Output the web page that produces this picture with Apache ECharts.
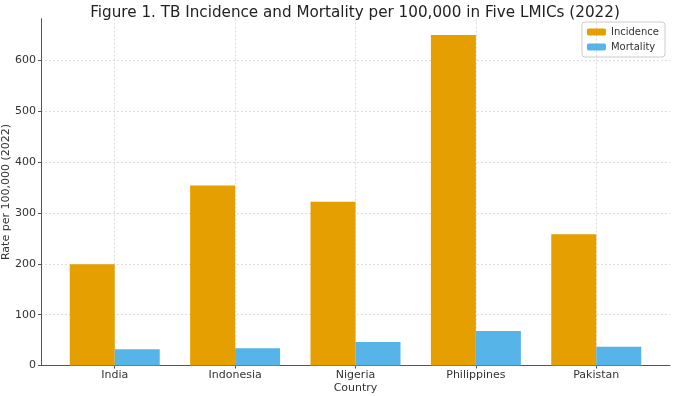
<!DOCTYPE html>
<html>
<head>
<meta charset="utf-8">
<script src="https://cdn.jsdelivr.net/npm/echarts@6/dist/echarts.min.js"></script>
<style>
  html, body { margin: 0; padding: 0; background: #fff; }
  #chart { width: 674px; height: 396px; }
</style>
</head>
<body>
<div id="chart"></div>
<script>
// TB rates per 100,000 (2022)
var countries = ['India', 'Indonesia', 'Nigeria', 'Philippines', 'Pakistan'];
var incidence = [199, 354, 322, 650, 258];
var mortality = [32, 34, 46, 68, 37];
var yTicks = [0, 100, 200, 300, 400, 500, 600];

var font = 'DejaVu Sans';
var idx = countries.map(function (c, i) { return i; });

var chart = echarts.init(document.getElementById('chart'));
var option = {
    animation: false,
    textStyle: { fontFamily: font },
    title: {
        text: 'Figure 1. TB Incidence and Mortality per 100,000 in Five LMICs (2022)',
        left: 350,
        textAlign: 'center',
        top: 1,
        textStyle: { fontFamily: font, fontSize: 15.2, fontWeight: 'normal', color: '#222' }
    },
    legend: {
        data: ['Incidence', 'Mortality'],
        orient: 'vertical',
        right: 9,
        top: 22,
        padding: [5, 6, 5, 5],
        itemGap: 5,
        itemWidth: 19,
        itemHeight: 7,
        borderColor: '#ccc',
        borderWidth: 1,
        borderRadius: 3,
        textStyle: { fontFamily: font, fontSize: 10, color: '#333' }
    },
    grid: { left: 41, right: 4, top: 18.6, bottom: 30.5, outerBoundsMode: 'none' },
    xAxis: {
        type: 'value',
        min: -0.6125,
        max: 4.6125,
        name: 'Country',
        nameLocation: 'middle',
        nameGap: 17,
        nameMoveOverlap: false,
        nameTextStyle: { fontFamily: font, fontSize: 11, color: '#333' },
        axisLine: { onZero: false, lineStyle: { color: '#555' } },
        axisTick: { show: true, length: 3, customValues: idx, lineStyle: { color: '#555' } },
        axisLabel: {
            customValues: idx,
            fontFamily: font, fontSize: 11, color: '#333', margin: 4,
            formatter: function (v) { return countries[Math.round(v)]; }
        },
        splitLine: { show: true, lineStyle: { color: '#ddd', type: [2, 2] } }
    },
    yAxis: {
        type: 'value',
        min: 0,
        max: 682.5,
        name: 'Rate per 100,000 (2022)',
        nameLocation: 'middle',
        nameGap: 29,
        nameMoveOverlap: false,
        nameTextStyle: { fontFamily: font, fontSize: 11, color: '#333' },
        axisLine: { show: true, onZero: false, lineStyle: { color: '#555' } },
        axisTick: { show: true, length: 3, customValues: yTicks, lineStyle: { color: '#555' } },
        axisLabel: { customValues: yTicks, fontFamily: font, fontSize: 11, color: '#333', margin: 5 },
        splitLine: { show: true, lineStyle: { color: '#ddd', type: [2, 2] } }
    },
    series: [{
        name: 'Incidence',
        type: 'bar',
        barWidth: 45,
        barGap: '0%',
        itemStyle: { color: '#E69F00' },
        data: incidence.map(function (v, i) { return [i, v]; })
    }, {
        name: 'Mortality',
        type: 'bar',
        barWidth: 45,
        barGap: '0%',
        itemStyle: { color: '#56B4E9' },
        data: mortality.map(function (v, i) { return [i, v]; })
    }]
};
chart.setOption(option);
</script>
</body>
</html>
